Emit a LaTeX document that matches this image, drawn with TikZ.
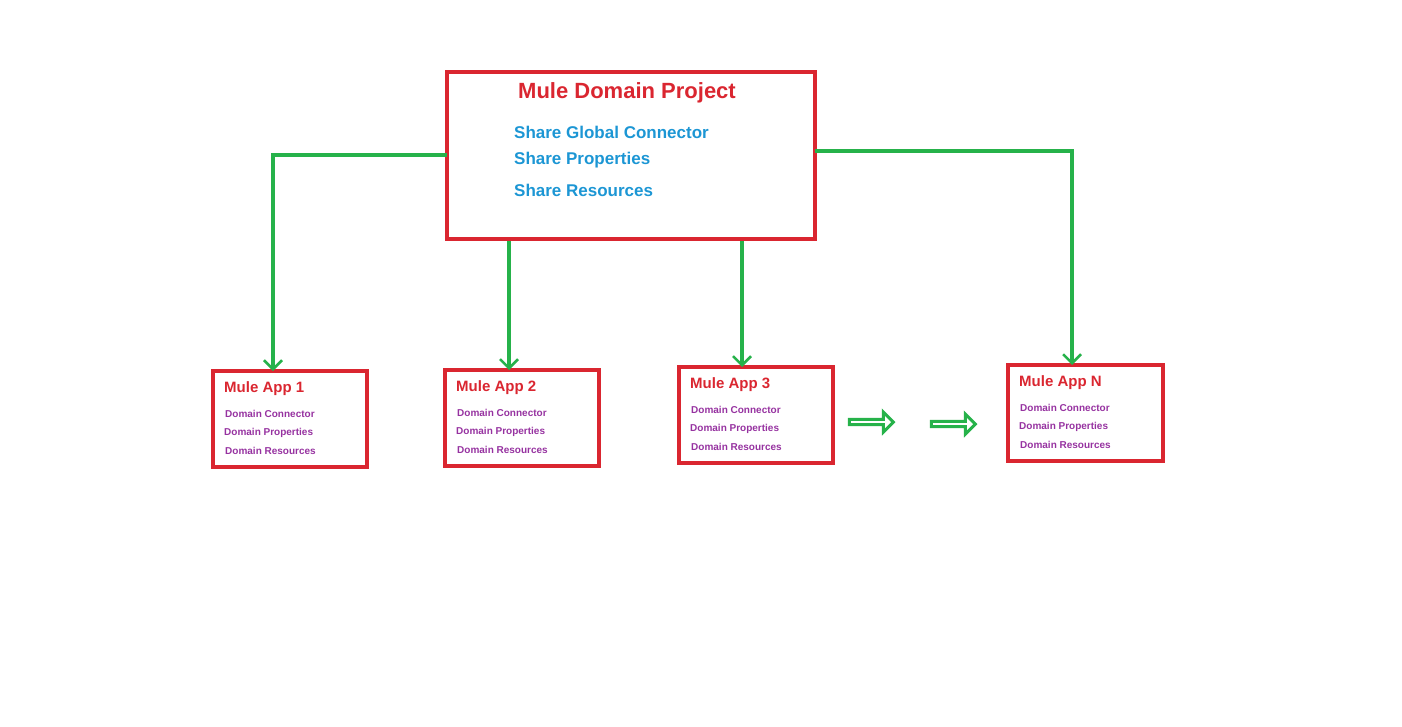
\documentclass[tikz,border=0pt]{standalone}
\usepackage{fontspec}
\setmainfont{Liberation Sans}
\usetikzlibrary{arrows.meta,shapes.arrows}
\definecolor{bred}{RGB}{218,38,48}
\definecolor{bgreen}{RGB}{38,178,74}
\definecolor{bblue}{RGB}{28,150,212}
\definecolor{bpurp}{RGB}{150,50,160}
\tikzset{
 box/.style={draw=bred,line width=3.5pt,fill=none},
 link/.style={draw=bgreen,line width=3.5pt,-{Straight Barb[length=9pt,width=18pt,line width=2.5pt]}},
 ttl/.style={text=bred,font=\bfseries\fontsize{15}{18}\selectfont,anchor=west,inner sep=0pt},
 sub/.style={text=bpurp,font=\bfseries\fontsize{10}{12}\selectfont,anchor=west,inner sep=0pt},
 hollow/.style={single arrow,draw=bgreen,line width=3pt,minimum height=44pt,minimum width=20pt,single arrow head extend=4pt,inner sep=0pt}
}
\begin{document}
\begin{tikzpicture}[x=1pt,y=-1pt]
\useasboundingbox (0,0) rectangle (1402,726);
\draw[box] (447,72) rectangle (815,239);
\node (main) at (631,156) [minimum width=368pt,minimum height=167pt] {};
\node[text=bred,font=\bfseries\fontsize{22}{26}\selectfont,inner sep=0pt] (mt) at (627,93) {Mule Domain Project};
\foreach \t/\y [count=\i] in {Share Global Connector/132,Share Properties/160,Share Resources/190}
 \node[text=bblue,font=\bfseries\fontsize{17}{20}\selectfont,anchor=west,inner sep=0pt] (s\i) at (514,\y) {\t};
\foreach \n/\xa/\ya/\xb/\yb/\lab in {a/213/371/367/467/1,b/445/370/599/466/2,c/679/367/833/463/3,d/1008/365/1163/461/N}{
 \draw[box] (\xa,\ya) rectangle (\xb,\yb);
 \coordinate (\n top) at ({(\xa+\xb)/2},\ya);
 \node[ttl] (\n t) at (\xa+11,\ya+18) {Mule App \lab};
 \node[sub] (\n1) at (\xa+12,\ya+43) {Domain Connector};
 \node[sub] (\n2) at (\xa+11,\ya+62) {Domain Properties};
 \node[sub] (\n3) at (\xa+12,\ya+80) {Domain Resources};
}
\coordinate (l1) at (447,155);
\coordinate (e1) at (273,371);
\coordinate (l2) at (509,241);
\coordinate (e2) at (509,370);
\coordinate (l3) at (742,241);
\coordinate (e3) at (742,367);
\coordinate (l4) at (815,151);
\coordinate (e4) at (1072,365);
\draw[link] (l1) -| (e1);
\draw[link] (l2) -- (e2);
\draw[link] (l3) -- (e3);
\draw[link] (l4) -| (e4);
\node[hollow] (h1) at (870,422) {};
\node[hollow] (h2) at (952,424) {};
\end{tikzpicture}
\end{document}
